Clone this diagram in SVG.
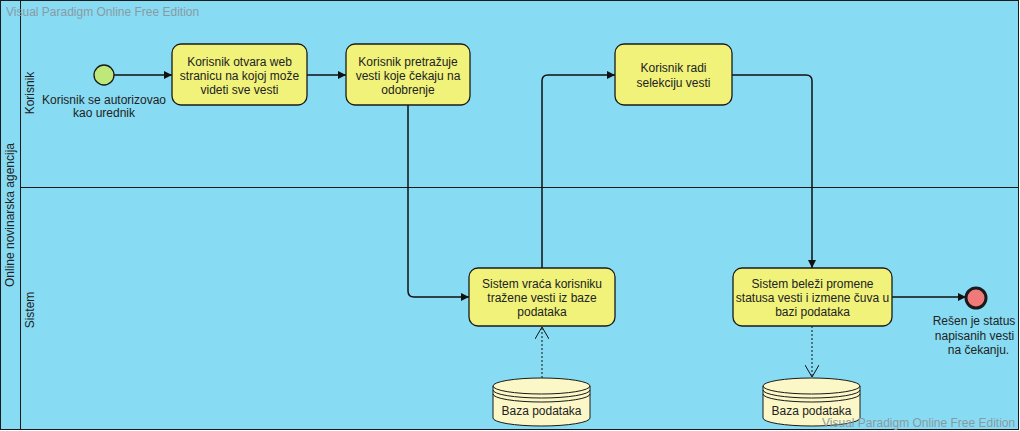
<svg xmlns="http://www.w3.org/2000/svg" width="1020" height="431" viewBox="0 0 1020 431">
<defs>
<style>
.t{font-family:"Liberation Sans",Arial,sans-serif;font-size:12px;fill:#222;text-anchor:middle}
.wm{font-family:"Liberation Sans",Arial,sans-serif;font-size:12px;fill:#8a9aa2}
.task{fill:#f0f27a;stroke:#1a1a1a;stroke-width:1.3}
.flow{fill:none;stroke:#111;stroke-width:1.5}
.assoc{fill:none;stroke:#111;stroke-width:1;stroke-dasharray:2,2}
.db{fill:#fbf7c6;stroke:#1a1a1a;stroke-width:1}
</style>
<marker id="ah" viewBox="0 0 10 10" refX="10" refY="5" markerWidth="8" markerHeight="8" orient="auto" markerUnits="userSpaceOnUse">
<path d="M0,0 L10,5 L0,10 z" fill="#111"/>
</marker>
<marker id="oh" viewBox="0 0 12 14" refX="12" refY="7" markerWidth="12" markerHeight="14" orient="auto" markerUnits="userSpaceOnUse">
<path d="M0,0 L12,7 L0,14" fill="none" stroke="#111" stroke-width="1"/>
</marker>
</defs>
<g id="pool">
<rect x="0.5" y="0.5" width="1018" height="429" fill="#87dcf4" stroke="#1a1a1a" stroke-width="1"/>
<line x1="20.5" y1="0" x2="20.5" y2="430" stroke="#1a1a1a"/>
<line x1="20" y1="187.5" x2="1019" y2="187.5" stroke="#1a1a1a"/>
<text class="t" transform="translate(14,215) rotate(-90)">Online novinarska agencija</text>
<text class="t" transform="translate(34,93) rotate(-90)">Korisnik</text>
<text class="t" transform="translate(34,310) rotate(-90)">Sistem</text>
</g>
<g id="connectors">
<path class="flow" d="M114,75 H172" marker-end="url(#ah)"/>
<path class="flow" d="M307,75 H346" marker-end="url(#ah)"/>
<path class="flow" d="M408,105 V291 Q408,297 414,297 H469" marker-end="url(#ah)"/>
<path class="flow" d="M542,268 V81 Q542,75 548,75 H615" marker-end="url(#ah)"/>
<path class="flow" d="M732,75 H806 Q812,75 812,81 V268" marker-end="url(#ah)"/>
<path class="flow" d="M892,297 H966" marker-end="url(#ah)"/>
<path class="assoc" d="M542,378 V327" marker-end="url(#oh)"/>
<path class="assoc" d="M812,326 V377" marker-end="url(#oh)"/>
</g>
<g id="start">
<circle cx="104" cy="75" r="10" fill="#bfe87a" stroke="#1a1a1a" stroke-width="1.3"/>
<text class="t" x="104" y="104">Korisnik se autorizovao</text>
<text class="t" x="104" y="117">kao urednik</text>
</g>
<g id="task1">
<rect class="task" x="172" y="44" width="135" height="61" rx="9"/>
<text class="t" x="239.5" y="66">Korisnik otvara web</text>
<text class="t" x="239.5" y="80">stranicu na kojoj može</text>
<text class="t" x="239.5" y="94">videti sve vesti</text>
</g>
<g id="task2">
<rect class="task" x="346" y="44" width="124" height="61" rx="9"/>
<text class="t" x="408" y="66">Korisnik pretražuje</text>
<text class="t" x="408" y="80">vesti koje čekaju na</text>
<text class="t" x="408" y="94">odobrenje</text>
</g>
<g id="task3">
<rect class="task" x="615" y="44" width="117" height="61" rx="9"/>
<text class="t" x="673.5" y="72">Korisnik radi</text>
<text class="t" x="673.5" y="87">selekciju vesti</text>
</g>
<g id="task4">
<rect class="task" x="469" y="268" width="146" height="58" rx="9"/>
<text class="t" x="542" y="288">Sistem vraća korisniku</text>
<text class="t" x="542" y="302">tražene vesti iz baze</text>
<text class="t" x="542" y="316">podataka</text>
</g>
<g id="task5">
<rect class="task" x="733" y="268" width="159" height="58" rx="9"/>
<text class="t" x="812.5" y="288">Sistem beleži promene</text>
<text class="t" x="812.5" y="302">statusa vesti i izmene čuva u</text>
<text class="t" x="812.5" y="316">bazi podataka</text>
</g>
<g id="end">
<circle cx="976" cy="298" r="10" fill="#f07a7a" stroke="#1a1a1a" stroke-width="3"/>
<text class="t" x="974" y="325">Rešen je status</text>
<text class="t" x="974.5" y="340">napisanih vesti</text>
<text class="t" x="978.5" y="354">na čekanju.</text>
</g>
<g id="db1">
<path class="db" d="M493,386 A48.5,8 0 0 1 590,386 V418 A48.5,8 0 0 1 493,418 Z"/>
<path class="db" d="M493,386 A48.5,8 0 0 0 590,386 M493,390 A48.5,8 0 0 0 590,390 M493,394 A48.5,8 0 0 0 590,394" style="fill:none"/>
<text class="t" x="541.5" y="415">Baza podataka</text>
</g>
<g id="db2">
<path class="db" d="M763,386 A48.5,8 0 0 1 860,386 V418 A48.5,8 0 0 1 763,418 Z"/>
<path class="db" d="M763,386 A48.5,8 0 0 0 860,386 M763,390 A48.5,8 0 0 0 860,390 M763,394 A48.5,8 0 0 0 860,394" style="fill:none"/>
<text class="t" x="811.5" y="415">Baza podataka</text>
</g>
<g id="watermarks">
<text class="wm" x="6" y="16">Visual Paradigm Online Free Edition</text>
<text class="wm" x="822" y="427">Visual Paradigm Online Free Edition</text>
</g>
</svg>
